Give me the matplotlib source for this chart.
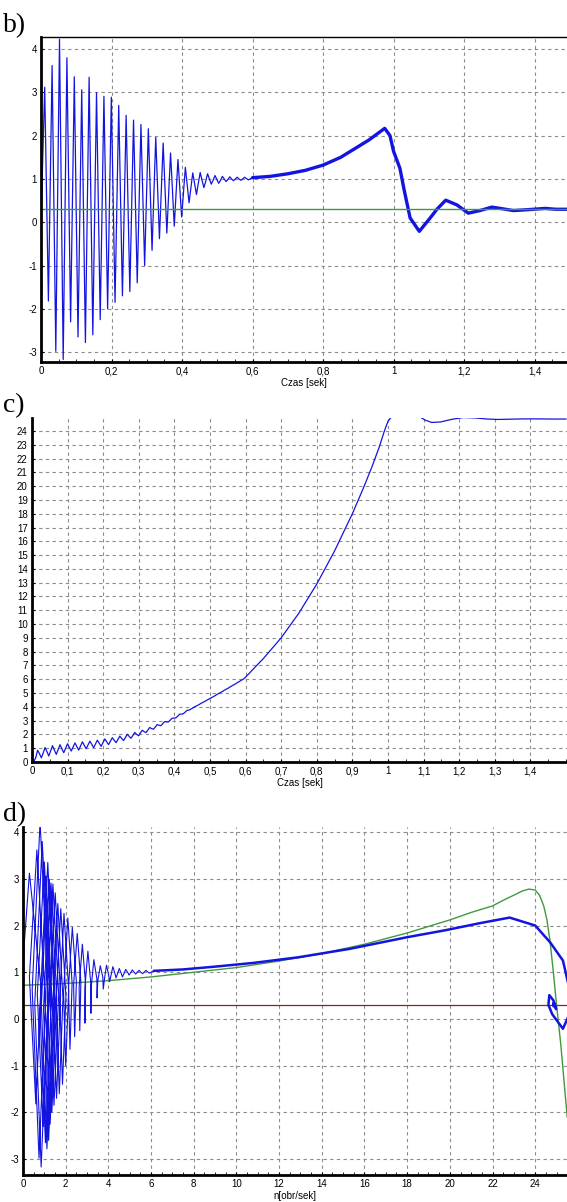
import numpy as np
import matplotlib.pyplot as plt
from matplotlib.ticker import MultipleLocator, FixedLocator, FuncFormatter, AutoMinorLocator

plt.rcParams['font.family'] = ['Liberation Sans', 'DejaVu Sans']
plt.rcParams['axes.unicode_minus'] = False

# start-up oscillation, sampled every quarter of the ripple period
dt = 0.00525
torque_osc = [
    0.0,
    1.56, 3.12, 0.65, -1.82,   0.90, 3.62, 0.32, -2.98,   0.63, 4.23, 0.53, -3.17,
    0.32, 3.80, 0.75, -2.30,   0.53, 3.36, 0.36, -2.65,   0.21, 3.06, 0.14, -2.78,
    0.29, 3.35, 0.38, -2.60,   0.20, 2.99, 0.37, -2.25,   0.33, 2.91, 0.46, -2.00,
    0.45, 2.89, 0.52, -1.85,   0.43, 2.70, 0.50, -1.70,   0.39, 2.47, 0.44, -1.60,
    0.38, 2.36, 0.48, -1.40,   0.43, 2.26, 0.63, -1.00,   0.58, 2.16, 0.76, -0.65,
    0.66, 1.96, 0.79, -0.38,   0.73, 1.83, 0.79, -0.25,   0.68, 1.60, 0.76, -0.09,
    0.68, 1.45, 0.79, 0.12,    0.70, 1.27, 0.86, 0.45,    0.80, 1.14, 0.89, 0.64,
    0.90, 1.15, 0.97, 0.80,    0.95, 1.12, 1.00, 0.88,    0.97, 1.08, 0.99, 0.90,
    0.97, 1.06, 1.00, 0.94,    0.99, 1.05, 1.00, 0.96,    1.00, 1.04, 1.00, 0.97,
    1.00, 1.04, 1.01, 0.98,
    1.00, 1.03,
]
speed_osc = [
    0.0,
    0.05, 0.30, 0.85, 0.60,   0.30, 0.65, 1.05, 0.75,   0.43, 0.80, 1.18, 0.85,
    0.55, 0.90, 1.25, 0.95,   0.67, 1.00, 1.32, 1.05,   0.79, 1.08, 1.38, 1.12,
    0.86, 1.16, 1.46, 1.20,   0.96, 1.23, 1.51, 1.27,   1.04, 1.31, 1.58, 1.35,
    1.13, 1.40, 1.67, 1.45,   1.26, 1.51, 1.76, 1.57,   1.40, 1.63, 1.87, 1.70,
    1.55, 1.77, 2.01, 1.85,   1.72, 1.92, 2.14, 2.00,   1.90, 2.10, 2.30, 2.20,
    2.13, 2.31, 2.50, 2.42,   2.37, 2.54, 2.71, 2.66,   2.63, 2.78, 2.93, 2.90,
    2.90, 3.04, 3.17, 3.18,   3.20, 3.32, 3.46, 3.47,   3.50, 3.62, 3.74, 3.76,
    3.83, 3.91, 4.00, 4.06,   4.13, 4.21, 4.29, 4.36,   4.43, 4.51, 4.59, 4.66,
    4.73, 4.81, 4.90, 4.97,   5.04, 5.12, 5.21, 5.28,   5.35, 5.44, 5.52, 5.60,
    5.67, 5.76, 5.84, 5.92,
    6.00, 6.10,
]

# slow run-up and settling
t_slow = [0.6, 0.65, 0.7, 0.75, 0.8, 0.85, 0.9, 0.93, 0.955, 0.975, 0.99, 1.0,
          1.018, 1.03, 1.047, 1.073, 1.104, 1.123, 1.148, 1.18, 1.212, 1.245,
          1.279, 1.31, 1.34, 1.38, 1.43, 1.46, 1.5]
torque_slow = [1.03, 1.06, 1.12, 1.20, 1.32, 1.50, 1.75, 1.90, 2.05, 2.17, 2.00, 1.64,
               1.25, 0.75, 0.10, -0.21, 0.10, 0.30, 0.51, 0.40, 0.21, 0.27,
               0.35, 0.31, 0.27, 0.29, 0.32, 0.30, 0.30]
speed_slow = [6.15, 7.5, 9.0, 10.8, 12.9, 15.3, 18.0, 19.8, 21.4, 22.8, 24.0, 24.7,
              25.3, 25.55, 25.6, 25.3, 24.8, 24.62, 24.66, 24.85, 24.98, 24.95,
              24.87, 24.84, 24.86, 24.88, 24.88, 24.87, 24.87]

load_torque = 0.3

# static torque-speed characteristic
n_static = [0, 2, 4, 6, 8, 10, 12, 14, 16, 18, 20, 21, 22, 22.5, 23, 23.4, 23.7,
            24.0, 24.2, 24.4, 24.55, 24.7, 24.85, 25.0, 25.2, 25.5]
torque_static = [0.72, 0.76, 0.82, 0.90, 1.00, 1.10, 1.24, 1.40, 1.60, 1.84, 2.12,
                 2.28, 2.42, 2.54, 2.65, 2.74, 2.78, 2.76, 2.65, 2.42, 2.12, 1.65,
                 1.00, 0.30, -0.55, -2.10]

t_ticks_b = [0, 0.2, 0.4, 0.6, 0.8, 1.0, 1.2, 1.4]
t_ticks_c = [0, 0.1, 0.2, 0.3, 0.4, 0.5, 0.6, 0.7, 0.8, 0.9, 1.0, 1.1, 1.2, 1.3, 1.4]
n_ticks = [0, 2, 4, 6, 8, 10, 12, 14, 16, 18, 20, 22, 24]

t_osc = np.arange(len(torque_osc)) * dt
# join both phases so the curves run on without a gap
t_all = np.concatenate([t_osc, t_slow])
torque_all = np.concatenate([torque_osc, torque_slow])
speed_all = np.concatenate([speed_osc, speed_slow])
n_osc = len(torque_osc)

BLUE = '#1414e0'
GREEN = '#3f9a3f'
GRID = '#8c8c8c'


def comma(v, pos):
    s = '%g' % round(v, 3)
    return s.replace('.', ',')


def style(ax):
    ax.grid(True, color=GRID, linestyle=(0, (3, 3)), linewidth=0.8)
    ax.set_axisbelow(True)
    ax.spines['right'].set_visible(False)
    ax.spines['left'].set_linewidth(2.0)
    ax.spines['bottom'].set_linewidth(2.0)
    ax.tick_params(labelsize=7, length=2.5, width=0.8, direction='in', pad=3)
    ax.tick_params(which='minor', length=2, width=0.6, direction='in')


fig = plt.figure(figsize=(5.67, 12.02), dpi=100)

# b) torque vs time
axb = fig.add_axes([0.0723, 0.6988, 1 - 0.0723, 0.2704])
axb.plot(t_all[:n_osc + 1], torque_all[:n_osc + 1], color=BLUE, lw=0.9)
axb.plot(t_all[n_osc:], torque_all[n_osc:], color=BLUE, lw=2.4, solid_capstyle='round')
axb.axhline(load_torque, color=GREEN, lw=1.0)
axb.set_xlim(0, 1.492)
axb.set_ylim(-3.23, 4.28)
axb.xaxis.set_major_locator(FixedLocator(t_ticks_b))
axb.xaxis.set_minor_locator(AutoMinorLocator(4))
axb.yaxis.set_major_locator(MultipleLocator(1))
axb.xaxis.set_major_formatter(FuncFormatter(comma))
style(axb)
axb.spines['top'].set_linewidth(1.0)
axb.set_xlabel('Czas [sek]', fontsize=7, labelpad=1)

# c) speed vs time
axc = fig.add_axes([0.0564, 0.3661, 1 - 0.0564, 0.2862])
axc.plot(t_all, speed_all, color=BLUE, lw=0.9)
axc.set_xlim(0, 1.503)
axc.set_ylim(0, 24.95)
axc.xaxis.set_major_locator(FixedLocator(t_ticks_c))
axc.xaxis.set_minor_locator(AutoMinorLocator(2))
axc.yaxis.set_major_locator(MultipleLocator(1))
axc.xaxis.set_major_formatter(FuncFormatter(comma))
style(axc)
axc.spines['top'].set_visible(False)
axc.set_xlabel('Czas [sek]', fontsize=7, labelpad=1)

# d) torque vs speed
axd = fig.add_axes([0.0406, 0.0225, 1 - 0.0406, 0.2895])
axd.axhline(load_torque, color='#7a2a20', lw=0.9)
axd.plot(n_static, torque_static, color=GREEN, lw=1.0)
axd.plot(speed_all[:n_osc + 1], torque_all[:n_osc + 1], color=BLUE, lw=0.8)
axd.plot(speed_all[n_osc:], torque_all[n_osc:], color=BLUE, lw=1.8)
axd.set_xlim(0, 25.49)
axd.set_ylim(-3.34, 4.11)
axd.xaxis.set_major_locator(FixedLocator(n_ticks))
axd.xaxis.set_minor_locator(AutoMinorLocator(4))
axd.yaxis.set_major_locator(MultipleLocator(1))
style(axd)
axd.spines['top'].set_visible(False)
axd.set_xlabel('n[obr/sek]', fontsize=7, labelpad=1)

for label, y in [('b)', 0.968), ('c)', 0.652), ('d)', 0.312)]:
    fig.text(0.005, y, label, family=['Liberation Serif', 'DejaVu Serif'],
             fontsize=20, va='bottom', ha='left')

fig.savefig('out.png', dpi=100)
